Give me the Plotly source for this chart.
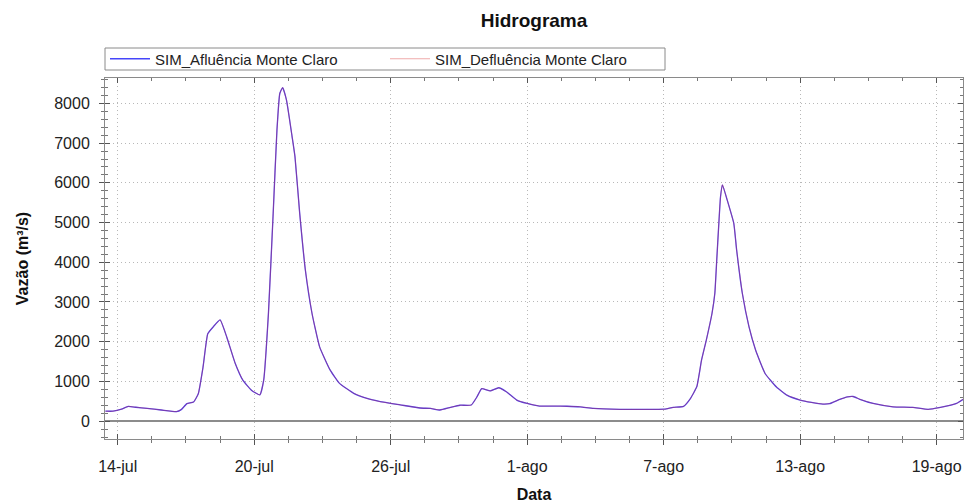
import plotly.graph_objects as go

# Série temporal (horária aproximada) das vazões simuladas em Monte Claro
datas = [
    "2011-07-13 11:00", "2011-07-13 19:00", "2011-07-14 04:00", "2011-07-14 11:00",
    "2011-07-14 19:00", "2011-07-15 07:00", "2011-07-15 22:00", "2011-07-16 14:00",
    "2011-07-16 19:00", "2011-07-17 01:00", "2011-07-17 08:00", "2011-07-17 13:00",
    "2011-07-17 18:00", "2011-07-17 23:00", "2011-07-18 05:00", "2011-07-18 12:00",
    "2011-07-18 19:00", "2011-07-19 04:00", "2011-07-19 12:00", "2011-07-19 21:00",
    "2011-07-20 06:00", "2011-07-20 10:00", "2011-07-20 15:00", "2011-07-20 20:00",
    "2011-07-21 00:00", "2011-07-21 03:00", "2011-07-21 06:00", "2011-07-21 10:00",
    "2011-07-21 16:00", "2011-07-21 19:00", "2011-07-22 00:00", "2011-07-22 06:00",
    "2011-07-22 13:00", "2011-07-22 21:00", "2011-07-23 08:00", "2011-07-23 18:00",
    "2011-07-24 09:00", "2011-07-24 23:00", "2011-07-25 13:00", "2011-07-26 10:00",
    "2011-07-27 07:00", "2011-07-27 18:00", "2011-07-28 04:00", "2011-07-28 15:00",
    "2011-07-29 01:00", "2011-07-29 13:00", "2011-07-29 19:00", "2011-07-30 00:00",
    "2011-07-30 09:00", "2011-07-30 18:00", "2011-07-31 02:00", "2011-07-31 13:00",
    "2011-08-01 00:00", "2011-08-01 13:00", "2011-08-02 04:00", "2011-08-02 18:00",
    "2011-08-03 08:00", "2011-08-03 22:00", "2011-08-05 02:00", "2011-08-06 13:00",
    "2011-08-07 01:00", "2011-08-07 10:00", "2011-08-07 21:00", "2011-08-08 04:00",
    "2011-08-08 11:00", "2011-08-08 16:00", "2011-08-08 21:00", "2011-08-09 03:00",
    "2011-08-09 06:00", "2011-08-09 08:00", "2011-08-09 10:00", "2011-08-09 12:00",
    "2011-08-09 14:00", "2011-08-09 19:00", "2011-08-10 02:00", "2011-08-10 05:00",
    "2011-08-10 11:00", "2011-08-10 18:00", "2011-08-11 01:00", "2011-08-11 11:00",
    "2011-08-11 23:00", "2011-08-12 10:00", "2011-08-13 00:00", "2011-08-13 12:00",
    "2011-08-14 00:00", "2011-08-14 07:00", "2011-08-14 17:00", "2011-08-15 02:00",
    "2011-08-15 08:00", "2011-08-15 15:00", "2011-08-16 05:00", "2011-08-17 02:00",
    "2011-08-17 23:00", "2011-08-18 15:00", "2011-08-19 04:00", "2011-08-19 21:00",
    "2011-08-20 08:00",
]

afluencia = [
    250, 250, 300, 370, 350, 320, 280, 240,
    290, 440, 480, 690, 1360, 2200, 2380, 2550,
    2120, 1450, 1030, 780, 660, 1030, 2710, 5230,
    7330, 8250, 8400, 8090, 7160, 6660, 5230, 3800,
    2710, 1870, 1290, 950, 700, 570, 490, 410,
    330, 320, 280, 345, 400, 405, 610, 820,
    760, 840, 740, 530, 445, 380, 380, 375,
    360, 320, 295, 295, 300, 345, 370, 560,
    870, 1540, 2040, 2710, 3220, 4050, 4890, 5650,
    5950, 5570, 4980, 4310, 3220, 2380, 1790, 1200,
    860, 655, 530, 470, 430, 440, 540, 610,
    620, 550, 445, 360, 345, 295, 345, 445,
    610,
]

defluencia = [
    250, 250, 300, 370, 350, 320, 280, 240,
    290, 440, 480, 690, 1360, 2200, 2380, 2550,
    2120, 1450, 1030, 780, 660, 1030, 2710, 5230,
    7330, 8250, 8400, 8090, 7160, 6660, 5230, 3800,
    2710, 1870, 1290, 950, 700, 570, 490, 410,
    330, 320, 280, 345, 400, 405, 610, 820,
    760, 840, 740, 530, 445, 380, 380, 375,
    360, 320, 295, 295, 300, 345, 370, 560,
    870, 1540, 2040, 2710, 3220, 4050, 4890, 5650,
    5950, 5570, 4980, 4310, 3220, 2380, 1790, 1200,
    860, 655, 530, 470, 430, 440, 540, 610,
    620, 550, 445, 360, 345, 295, 345, 445,
    620,
]

tick_datas = ["2011-07-14", "2011-07-20", "2011-07-26", "2011-08-01",
              "2011-08-07", "2011-08-13", "2011-08-19"]
tick_rotulos = ["14-jul", "20-jul", "26-jul", "1-ago", "7-ago", "13-ago", "19-ago"]

x_range = ["2011-07-13 10:34", "2011-08-20 03:50"]
y_range = [-450, 8640]

FONTE = "Liberation Sans, Arial, sans-serif"
COR_EIXO = "#8a8a8a"
COR_GRADE = "#b8b8b8"
GRADE_TRACO = "1px,3px"

# área de plotagem em pixels (para posicionar legenda e moldura da legenda)
H, MT, MB = 504, 78, 65
PLOT_H = H - MT - MB


def y_paper(py):
    return (H - MB - py) / PLOT_H


fig = go.Figure()
fig.add_trace(go.Scatter(
    x=datas, y=afluencia, mode="lines", name="SIM_Afluência Monte Claro",
    line=dict(color="#4646fa", width=1.3, shape="spline", smoothing=0.4),
))
fig.add_trace(go.Scatter(
    x=datas, y=defluencia, mode="lines", name="SIM_Defluência Monte Claro",
    line=dict(color="rgba(215,40,40,0.40)", width=1, shape="spline", smoothing=0.4),
))
# traço vazio para ancorar os eixos sobrepostos (marcas internas e moldura)
fig.add_trace(go.Scatter(x=[], y=[], xaxis="x2", yaxis="y2", showlegend=False,
                         hoverinfo="skip"))

fig.update_layout(
    width=969, height=504,
    margin=dict(l=105, r=6, t=MT, b=MB, autoexpand=False),
    paper_bgcolor="white", plot_bgcolor="white",
    font=dict(family=FONTE, size=16, color="#222222"),
    title=dict(text="<b>Hidrograma</b>", x=0.5, xref="paper", xanchor="center",
               y=1 - 20 / 504, yanchor="middle",
               font=dict(family=FONTE, size=19, color="#111111")),
    showlegend=True,
    legend=dict(
        orientation="h", x=0, xanchor="left", xref="paper",
        y=y_paper(59), yanchor="middle", yref="paper",
        borderwidth=0, bgcolor="rgba(0,0,0,0)",
        font=dict(family=FONTE, size=15, color="#222222"),
        entrywidth=225, entrywidthmode="pixels",
        itemwidth=40, tracegroupgap=0,
    ),
    shapes=[dict(
        type="rect", xref="paper", yref="paper",
        x0=0, x1=(665 - 105) / (969 - 105 - 6), y0=y_paper(70), y1=y_paper(48),
        line=dict(color="#8a8a8a", width=1), fillcolor="rgba(0,0,0,0)",
        layer="above",
    )],
    xaxis=dict(
        type="date", range=x_range, automargin=False,
        tickmode="array", tickvals=tick_datas, ticktext=tick_rotulos,
        ticks="outside", ticklen=5, tickwidth=1, tickcolor="#555555",
        minor=dict(dtick=36 * 3600 * 1000, tick0="2011-07-14",
                   ticks="outside", ticklen=3, tickcolor="#777777",
                   showgrid=False),
        showgrid=True, gridcolor=COR_GRADE, griddash=GRADE_TRACO, gridwidth=1,
        showline=True, linecolor=COR_EIXO, linewidth=1,
        zeroline=False, ticklabelstandoff=8,
        title=dict(text="<b>Data</b>", standoff=14,
                   font=dict(family=FONTE, size=16, color="#111111")),
        tickfont=dict(family=FONTE, size=16, color="#222222"),
    ),
    yaxis=dict(
        range=y_range, automargin=False, tickmode="linear", tick0=0, dtick=1000,
        ticks="outside", ticklen=5, tickwidth=1, tickcolor="#555555",
        minor=dict(dtick=200, ticks="outside", ticklen=3, tickcolor="#777777",
                   showgrid=False),
        showgrid=True, gridcolor=COR_GRADE, griddash=GRADE_TRACO, gridwidth=1,
        showline=True, linecolor=COR_EIXO, linewidth=1,
        zeroline=True, zerolinecolor="#8c8c8c", zerolinewidth=1.5,
        ticklabelstandoff=6,
        title=dict(text="<b>Vazão (m³/s)</b>", standoff=21,
                   font=dict(family=FONTE, size=16, color="#111111")),
        tickfont=dict(family=FONTE, size=16, color="#222222"),
    ),
    xaxis2=dict(
        type="date", range=x_range, overlaying="x", anchor="y", side="bottom",
        automargin=False,
        tickmode="array", tickvals=tick_datas, showticklabels=False,
        ticks="inside", ticklen=5, tickcolor="#555555",
        minor=dict(dtick=36 * 3600 * 1000, tick0="2011-07-14",
                   ticks="inside", ticklen=3, tickcolor="#777777"),
        mirror="allticks", showline=True, linecolor=COR_EIXO, linewidth=1,
        showgrid=False, zeroline=False,
    ),
    yaxis2=dict(
        range=y_range, overlaying="y", anchor="x", side="left",
        automargin=False,
        tickmode="linear", tick0=0, dtick=1000, showticklabels=False,
        ticks="inside", ticklen=5, tickcolor="#555555",
        minor=dict(dtick=200, ticks="inside", ticklen=3, tickcolor="#777777"),
        mirror="allticks", showline=True, linecolor=COR_EIXO, linewidth=1,
        showgrid=False, zeroline=False,
    ),
)

fig.write_html("out.html")
